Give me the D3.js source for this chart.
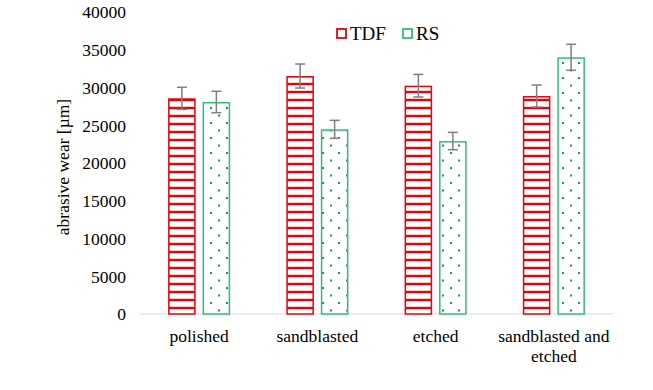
<!DOCTYPE html>
<html>
<head>
<meta charset="utf-8">
<script src="https://cdn.jsdelivr.net/npm/d3@7"></script>
<style>
  body { margin: 0; background: #fff; }
  svg text { font-family: "Liberation Serif", "Times New Roman", serif !important; fill: #000; }
</style>
</head>
<body>
<div id="chart"></div>
<script>
// data
const categories = ['polished', 'sandblasted', 'etched', 'sandblasted and etched'];
const seriesNames = ['TDF', 'RS'];
const tdfValues = [28570, 31520, 30240, 28870];
const tdfErrors = [1460, 1590, 1500, 1460];
const rsValues = [28080, 24460, 22910, 34000];
const rsErrors = [1420, 1190, 1150, 1720];
const yTicks = [0, 5000, 10000, 15000, 20000, 25000, 30000, 35000, 40000];

const width = 653;
const height = 390;
const margin = { top: 12, right: 40, bottom: 76, left: 140 };
const serif = '"Liberation Serif", "Times New Roman", serif';

const svg = d3.select('#chart')
  .append('svg')
  .attr('width', width)
  .attr('height', height)
  .attr('font-family', serif);

const defs = svg.append('defs');

// horizontal red stripes for TDF
const stripes = defs.append('pattern')
  .attr('id', 'stripes')
  .attr('patternUnits', 'userSpaceOnUse')
  .attr('width', 8)
  .attr('height', 8);
stripes.append('rect').attr('width', 8).attr('height', 8).attr('fill', '#fff');
stripes.append('line')
  .attr('x1', 0).attr('x2', 8).attr('y1', 4).attr('y2', 4)
  .attr('stroke', '#e8000b').attr('stroke-width', 2.4);

// sparse green dots for RS
const dots = defs.append('pattern')
  .attr('id', 'dots')
  .attr('patternUnits', 'userSpaceOnUse')
  .attr('width', 16)
  .attr('height', 15)
  .attr('x', 3).attr('y', 3);
dots.append('rect').attr('width', 16).attr('height', 15).attr('fill', '#fff');
[[0, 0], [16, 0], [0, 15], [16, 15], [8, 7.5]].forEach(p => {
  dots.append('rect')
    .attr('x', p[0] - 1).attr('y', p[1] - 1)
    .attr('width', 2).attr('height', 2)
    .attr('fill', '#109b63');
});

const x = d3.scaleBand()
  .domain(categories)
  .range([margin.left, width - margin.right])
  .paddingInner(0.475)
  .paddingOuter(0.2375);

const xInner = d3.scaleBand()
  .domain(seriesNames)
  .range([0, x.bandwidth()])
  .paddingInner(0.2);

const y = d3.scaleLinear()
  .domain([0, 40000])
  .range([height - margin.bottom, margin.top]);

// y axis labels (no line)
const yAxis = svg.append('g')
  .attr('transform', `translate(${margin.left - 14},0)`)
  .call(d3.axisLeft(y).tickValues(yTicks).tickSize(0).tickPadding(0).tickFormat(d3.format('d')))
  .attr('font-family', serif)
  .attr('font-size', 17.5);
yAxis.select('.domain').remove();
yAxis.selectAll('text')
  .attr('fill', '#000')
  .attr('dy', '0.33em');

// x axis baseline
svg.append('line')
  .attr('x1', margin.left).attr('x2', width - margin.right)
  .attr('y1', y(0)).attr('y2', y(0))
  .attr('stroke', '#d9d9d9').attr('stroke-width', 1.2);

const series = [
  { name: 'TDF', values: tdfValues, errors: tdfErrors, fill: 'url(#stripes)', stroke: '#e8000b' },
  { name: 'RS', values: rsValues, errors: rsErrors, fill: 'url(#dots)', stroke: '#2fbf71' }
];

series.forEach(s => {
  const g = svg.append('g');
  g.selectAll('rect')
    .data(categories)
    .enter()
    .append('rect')
    .attr('x', (d, i) => x(d) + xInner(s.name) + 0.75)
    .attr('y', (d, i) => y(s.values[i]) + 0.75)
    .attr('width', xInner.bandwidth() - 1.5)
    .attr('height', (d, i) => y(0) - y(s.values[i]) - 0.75)
    .attr('fill', s.fill)
    .attr('stroke', s.stroke)
    .attr('stroke-width', 1.5);
});

// error bars
series.forEach(s => {
  const g = svg.append('g').attr('stroke', '#7f7f7f').attr('stroke-width', 1.5);
  categories.forEach((c, i) => {
    const cx = x(c) + xInner(s.name) + xInner.bandwidth() / 2;
    const top = y(s.values[i] + s.errors[i]);
    const bot = y(s.values[i] - s.errors[i]);
    g.append('line').attr('x1', cx).attr('x2', cx).attr('y1', top).attr('y2', bot);
    g.append('line').attr('x1', cx - 5).attr('x2', cx + 5).attr('y1', top).attr('y2', top);
    g.append('line').attr('x1', cx - 5).attr('x2', cx + 5).attr('y1', bot).attr('y2', bot);
  });
});

// category labels
const xLabels = svg.append('g');
categories.forEach(c => {
  const cx = x(c) + x.bandwidth() / 2;
  const t = xLabels.append('text')
    .attr('x', cx)
    .attr('y', y(0) + 28)
    .attr('text-anchor', 'middle')
    .attr('font-size', 17.5);
  if (c === 'sandblasted and etched') {
    t.append('tspan').attr('x', cx).text('sandblasted and');
    t.append('tspan').attr('x', cx).attr('dy', 20).text('etched');
  } else {
    t.text(c);
  }
});

// y axis title
svg.append('text')
  .attr('transform', `translate(69,${(y(0) + y(40000)) / 2 + 4}) rotate(-90)`)
  .attr('text-anchor', 'middle')
  .attr('font-size', 17.5)
  .text('abrasive wear [µm]');

// legend
const legend = svg.append('g');
const legendX = [337, 403];
series.forEach((s, i) => {
  legend.append('rect')
    .attr('x', legendX[i]).attr('y', 29)
    .attr('width', 9).attr('height', 9)
    .attr('fill', '#fff')
    .attr('stroke', s.stroke)
    .attr('stroke-width', 1.8);
  legend.append('text')
    .attr('x', legendX[i] + 13)
    .attr('y', 40)
    .attr('font-size', 19)
    .text(s.name);
});
</script>
</body>
</html>
